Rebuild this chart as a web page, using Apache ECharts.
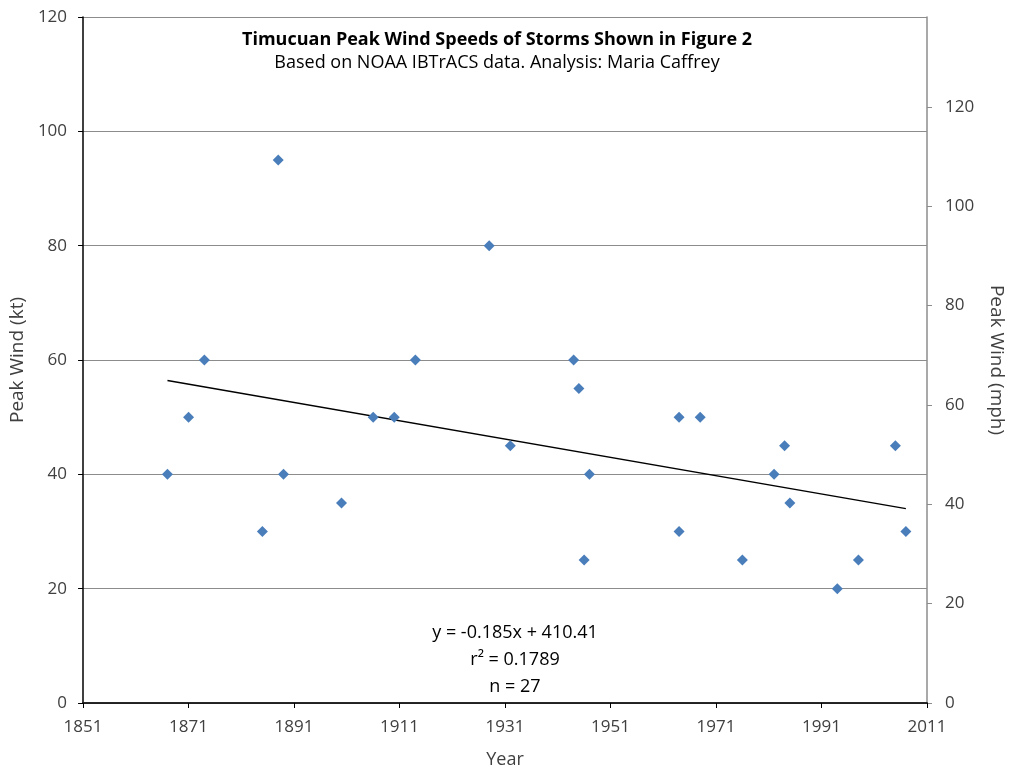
<!DOCTYPE html>
<html>
<head>
<meta charset="utf-8">
<title>Timucuan Peak Wind Speeds</title>
<script src="https://cdn.jsdelivr.net/npm/echarts@6/dist/echarts.min.js"></script>
<style>
  html, body { margin: 0; padding: 0; background: #fff; }
  #chart { width: 1014px; height: 774px; }
</style>
</head>
<body>
<div id="chart"></div>
<script>
// storm year and peak wind (kt)
const years = [1867, 1871, 1874, 1885, 1888, 1889, 1900, 1906, 1910, 1914, 1928, 1932, 1944, 1945,
  1946, 1947, 1964, 1964, 1968, 1976, 1982, 1984, 1985, 1994, 1998, 2005, 2007];
const windKt = [40, 50, 60, 30, 95, 40, 35, 50, 50, 60, 80, 45, 60, 55,
  25, 40, 50, 30, 50, 25, 40, 45, 35, 20, 25, 45, 30];

// linear trend as drawn (end points)
const trendYears = [1867, 2007];
const trendKt = [56.4, 34.0];

const yearTicks = [1851, 1871, 1891, 1911, 1931, 1951, 1971, 1991, 2011];
const ktTicks = [0, 20, 40, 60, 80, 100, 120];
const mphTicks = [0, 20, 40, 60, 80, 100, 120];
const KT_TO_MPH = 1.15078;

const statLines = ['y = -0.185x + 410.41', 'r\u00B2 = 0.1789', 'n = 27'];
const statY = [633, 660, 687];

const FONT = '"Open Sans", "Noto Sans", sans-serif';
const labelColor = '#404040';
const gridGray = '#8c8c8c';

const chart = echarts.init(document.getElementById('chart'));

const option = {
  backgroundColor: '#fff',
  textStyle: { fontFamily: FONT },
  animation: false,
  title: {
    text: 'Timucuan Peak Wind Speeds of Storms Shown in Figure 2',
    subtext: 'Based on NOAA IBTrACS data. Analysis: Maria Caffrey',
    left: 492,
    top: 26,
    textAlign: 'center',
    itemGap: 5,
    textStyle: { fontFamily: FONT, fontSize: 18, fontWeight: 'bold', color: '#000' },
    subtextStyle: { fontFamily: FONT, fontSize: 18, color: '#000' }
  },
  grid: { left: 83, right: 87, top: 17, bottom: 70 },
  xAxis: [
    {
      type: 'value',
      min: yearTicks[0],
      max: yearTicks[yearTicks.length - 1],
      interval: 20,
      name: 'Year',
      nameLocation: 'middle',
      nameGap: 48,
      nameTextStyle: { fontFamily: FONT, fontSize: 18, color: labelColor },
      axisLine: { show: true, lineStyle: { color: '#000', width: 1.5 } },
      axisTick: { show: true, inside: false, length: 5, lineStyle: { color: '#000' } },
      axisLabel: {
        fontFamily: FONT, fontSize: 17, color: labelColor, margin: 16,
        customValues: yearTicks,
        formatter: v => String(v)
      },
      splitLine: { show: false }
    },
    {
      type: 'value',
      position: 'top',
      min: yearTicks[0],
      max: yearTicks[yearTicks.length - 1],
      axisLine: { show: true, lineStyle: { color: '#222', width: 1.5 } },
      axisTick: { show: false },
      axisLabel: { show: false },
      splitLine: { show: false }
    }
  ],
  yAxis: [
    {
      type: 'value',
      min: 0,
      max: 120,
      interval: 20,
      name: 'Peak Wind (kt)',
      nameLocation: 'middle',
      nameGap: 55,
      nameTextStyle: { fontFamily: FONT, fontSize: 19, color: labelColor },
      axisLine: { show: true, lineStyle: { color: '#000', width: 1.5 } },
      axisTick: { show: true, inside: false, length: 5, lineStyle: { color: '#000' } },
      axisLabel: { fontFamily: FONT, fontSize: 17, color: labelColor, margin: 16, customValues: ktTicks },
      splitLine: { show: true, lineStyle: { color: gridGray, width: 1.2 } }
    },
    {
      type: 'value',
      position: 'right',
      min: 0,
      max: 120 * KT_TO_MPH,
      name: 'Peak Wind (mph)',
      nameLocation: 'middle',
      nameRotate: -90,
      nameGap: 60,
      nameTextStyle: { fontFamily: FONT, fontSize: 19, color: labelColor },
      axisLine: { show: true, lineStyle: { color: gridGray, width: 1.5 } },
      axisTick: { show: true, inside: false, length: 5, lineStyle: { color: gridGray }, customValues: mphTicks },
      axisLabel: { fontFamily: FONT, fontSize: 17, color: labelColor, margin: 18, customValues: mphTicks },
      splitLine: { show: false }
    }
  ],
  graphic: statLines.map((t, i) => ({
    type: 'text',
    style: {
      text: t,
      x: 515,
      y: statY[i],
      align: 'center',
      verticalAlign: 'middle',
      font: '18px ' + FONT,
      fill: '#000'
    }
  })),
  series: [
    {
      name: 'Trend',
      type: 'line',
      xAxisIndex: 0,
      yAxisIndex: 0,
      data: trendYears.map((y, i) => [y, trendKt[i]]),
      showSymbol: false,
      lineStyle: { color: '#000', width: 1.5 },
      z: 3
    },
    {
      name: 'Peak wind',
      type: 'scatter',
      xAxisIndex: 0,
      yAxisIndex: 0,
      symbol: 'diamond',
      symbolSize: 11,
      itemStyle: { color: '#4a7ebb', opacity: 1 },
      data: years.map((y, i) => [y, windKt[i]]),
      z: 4
    }
  ]
};

chart.setOption(option);
</script>
</body>
</html>
